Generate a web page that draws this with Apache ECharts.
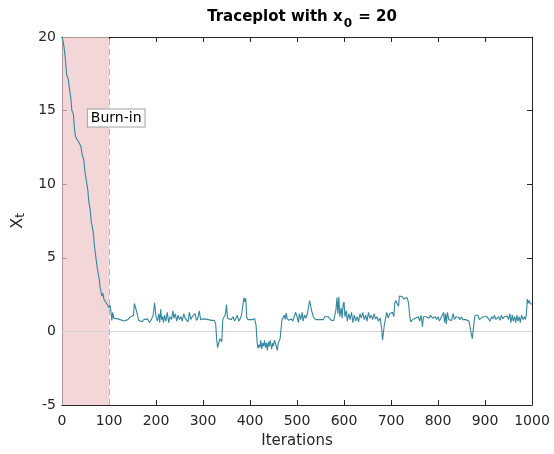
<!DOCTYPE html>
<html>
<head>
<meta charset="utf-8">
<script src="https://cdn.jsdelivr.net/npm/echarts@6/dist/echarts.min.js"></script>
<style>html,body{margin:0;padding:0;background:#fff;}#c{width:554px;height:454px;}</style>
</head>
<body>
<div id="c"></div>
<script>
// Iteration indices (sampled where the trace changes) and chain values
const iterations = [
0,3,6,9,10,13,15,17,19,21,24,27,29,33,37,40,43,46,49,52,55,57,60,62,64,67,69,71,73,75,77,79,81,83,85,87,89,92,95,98,100,102,104,106,108,110,
112,118,120,124,128,132,136,140,144,148,152,154,156,158,160,163,166,170,174,178,182,186,190,194,197,200,203,206,208,210,212,214,216,218,221,224,227,230,233,236,238,241,244,247,250,253,256,259,262,265,268,271,274,277,280,283,286,289,292,295,298,302,306,312,318,324,327,329,331,334,336,338,340,342,345,348,350,352,356,360,364,367,370,373,376,379,382,385,387,389,391,393,396,400,405,410,413,415,417,419,421,423,425,427,429,431,433,435,437,439,441,443,446,448,450,452,455,458,460,462,464,466,468,471,473,475,477,479,482,485,488,491,494,497,
500,503,505,508,511,513,516,519,522,525,527,529,531,533,535,540,548,556,559,566,570,573,578,580,583,585,587,589,591,594,596,598,600,602,605,607,610,613,616,619,622,625,628,631,634,637,640,643,646,649,652,655,658,661,664,667,670,673,677,680,682,684,686,688,691,694,697,700,703,706,708,710,713,716,718,721,724,727,730,734,737,740,742,746,749,752,755,758,761,764,767,769,772,775,778,781,784,788,791,794,797,800,803,806,809,812,814,816,818,820,823,826,829,832,835,838,841,844,847,850,853,856,859,862,866,869,871,873,875,877,879,882,885,888,892,896,900,904,908,911,914,917,920,923,926,929,932,935,938,941,944,947,950,953,955,958,960,963,965,968,970,973,975,978,981,984,986,988,990,992,994,996,998,1000
];
const values = [
20.0,19.6,18.9,17.8,17.4,17.2,16.7,16.6,15.8,15.0,14.8,13.6,13.2,13.0,12.9,12.6,12.0,11.7,10.8,10.2,9.6,8.8,8.3,7.5,7.2,6.6,5.8,5.3,4.8,4.3,4.2,3.6,3.0,2.9,2.4,2.6,2.2,2.1,1.9,2.0,1.6,1.8,1.4,0.75,1.3,0.9,
0.85,0.85,0.95,0.8,0.85,0.7,0.8,0.8,0.95,0.95,1.1,1.9,1.8,2.0,1.2,0.75,0.85,0.65,0.8,0.7,0.85,0.6,0.8,1.1,1.95,1.0,0.7,1.2,0.6,1.5,0.8,1.0,0.6,1.1,0.7,1.3,0.6,1.0,0.8,1.4,0.9,1.2,0.7,1.1,0.8,1.0,0.7,1.2,0.9,1.0,0.65,1.3,0.8,1.0,0.9,1.2,0.75,0.9,1.4,0.8,0.9,0.85,0.8,0.8,0.75,0.75,0.5,-0.5,-1.1,-1.0,-0.5,-0.6,-0.7,0.8,0.9,1.2,1.8,0.9,0.85,0.8,1.0,0.7,0.9,1.1,0.7,0.85,1.1,1.0,2.3,2.0,2.25,0.95,0.8,0.85,0.8,0.85,0.4,-0.7,-1.15,-0.9,-1.1,-0.6,-1.2,-0.8,-1.0,-0.6,-1.1,-0.8,-1.3,-0.7,-1.0,-0.6,-1.2,-0.8,-1.0,-0.6,-0.9,-1.3,-0.8,-0.7,-0.5,-0.4,0.8,0.9,1.1,0.8,1.25,0.9,0.75,0.7,0.85,0.7,0.8,1.3,
1.0,0.6,1.2,0.8,1.3,0.7,1.1,0.9,1.2,1.1,2.1,2.0,1.4,1.2,0.95,0.8,0.8,0.8,1.0,1.0,1.0,0.75,0.75,1.0,1.5,2.3,1.2,2.35,1.0,1.6,0.9,1.8,2.0,1.0,1.4,0.7,1.2,0.8,1.3,0.6,1.1,0.7,1.0,0.65,1.2,0.9,1.3,0.8,1.1,0.7,1.3,0.9,1.1,0.8,1.2,0.85,1.0,0.7,0.9,0.2,-0.6,-0.5,0.5,0.8,1.3,0.9,1.2,1.1,1.3,1.0,1.9,2.1,1.9,1.7,2.4,2.3,2.35,2.2,2.2,2.3,2.0,1.0,0.65,0.8,0.7,0.9,0.8,1.0,0.7,1.1,0.32,1.0,0.9,1.0,1.1,0.9,1.1,0.9,0.85,1.0,0.8,1.0,0.7,0.9,0.85,1.3,0.6,1.2,0.5,1.3,0.8,0.9,0.75,1.2,0.8,1.0,0.9,0.95,0.8,1.0,0.8,0.9,0.8,0.7,0.7,0.6,-0.2,-0.5,0.1,0.7,1.1,1.0,1.1,0.8,0.9,1.0,0.95,1.0,0.9,0.7,1.0,0.85,1.1,0.8,0.9,1.0,0.75,1.1,0.85,1.0,0.9,1.05,0.8,1.2,0.6,1.1,0.7,1.0,0.6,1.1,0.7,1.0,0.6,1.1,0.8,1.0,0.8,1.2,2.2,1.9,2.1,1.9,2.0,1.85
];
const xTicks = [0,100,200,300,400,500,600,700,800,900,1000];
const yTicks = [-5,0,5,10,15,20];
const burnIn = 100;

const data = iterations.map((it, k) => [it, values[k]]);
const axisColor = '#262626';
const font = 'DejaVu Sans';

const chart = echarts.init(document.getElementById('c'), null, {renderer: 'canvas'});
chart.setOption({
  animation: false,
  backgroundColor: '#ffffff',
  title: {
    text: '{b|Traceplot with x}{s|0}{b| = 20}',
    left: 297, top: 0, textAlign: 'center',
    textStyle: {
      rich: {
        b: {fontFamily: font, fontWeight: 'bold', fontSize: 15, color: '#000', verticalAlign: 'bottom', lineHeight: 20},
        s: {fontFamily: font, fontWeight: 'bold', fontSize: 12, color: '#000', verticalAlign: 'bottom', lineHeight: 12, padding: [0,1,-5,1]}
      }
    }
  },
  grid: {left: 62, right: 22, top: 37, bottom: 47, containLabel: false},
  xAxis: [{
    type: 'value', min: 0, max: 1000, interval: 100,
    name: 'Iterations', nameLocation: 'middle', nameGap: 29,
    nameTextStyle: {fontFamily: font, fontSize: 15, color: axisColor},
    axisLine: {show: true, onZero: false, lineStyle: {color: axisColor, width: 1}},
    axisTick: {show: true, inside: true, length: 5, lineStyle: {color: axisColor}},
    axisLabel: {fontFamily: font, fontSize: 14, color: axisColor, margin: 9,
      formatter: v => xTicks.indexOf(v) >= 0 ? String(v) : ''},
    splitLine: {show: false}
  }, {
    type: 'value', min: 0, max: 1000, interval: 100, position: 'top',
    axisLine: {show: true, onZero: false, lineStyle: {color: axisColor, width: 1}},
    axisTick: {show: true, inside: true, length: 5, lineStyle: {color: axisColor}},
    axisLabel: {show: false}, splitLine: {show: false}
  }],
  yAxis: [{
    type: 'value', min: -5, max: 20, interval: 5,
    name: '{m|X}{s|t}', nameLocation: 'middle', nameGap: 34, nameRotate: 90,
    nameTextStyle: {
      rich: {
        m: {fontFamily: font, fontSize: 16, color: axisColor},
        s: {fontFamily: font, fontSize: 12, color: axisColor, padding: [0,0,-6,0]}
      }
    },
    axisLine: {show: true, onZero: false, lineStyle: {color: axisColor, width: 1}},
    axisTick: {show: true, inside: true, length: 5, lineStyle: {color: axisColor}},
    axisLabel: {fontFamily: font, fontSize: 14, color: axisColor, margin: 6,
      formatter: v => yTicks.indexOf(v) >= 0 ? String(v) : ''},
    splitLine: {show: false}
  }, {
    type: 'value', min: -5, max: 20, interval: 5, position: 'right',
    axisLine: {show: true, onZero: false, lineStyle: {color: axisColor, width: 1}},
    axisTick: {show: true, inside: true, length: 5, lineStyle: {color: axisColor}},
    axisLabel: {show: false}, splitLine: {show: false}
  }],
  series: [{
    type: 'line',
    data: data,
    showSymbol: false,
    symbol: 'none',
    lineStyle: {color: '#33879f', width: 1.1},
    z: 5,
    markArea: {
      silent: true,
      itemStyle: {color: 'rgba(236,196,199,0.7)'},
      data: [[{xAxis: 0}, {xAxis: burnIn}]]
    },
    markLine: {
      silent: true,
      symbol: 'none',
      label: {show: false},
      data: [
        {xAxis: burnIn, lineStyle: {color: '#d9a3a8', type: [6, 4], width: 1}},
        {yAxis: 0, lineStyle: {color: '#d4d4d4', type: 'solid', width: 1}}
      ]
    },
    markPoint: {
      silent: true,
      symbol: 'circle', symbolSize: 0,
      data: [{coord: [55, 14.5], value: 'Burn-in'}],
      label: {
        show: true, position: 'right', distance: 0,
        formatter: 'Burn-in',
        fontFamily: font, fontSize: 14, color: '#000',
        backgroundColor: '#ffffff', borderColor: '#a0a0a0', borderWidth: 1,
        padding: [2, 3, 1, 3]
      }
    }
  }]
});
</script>
</body>
</html>
